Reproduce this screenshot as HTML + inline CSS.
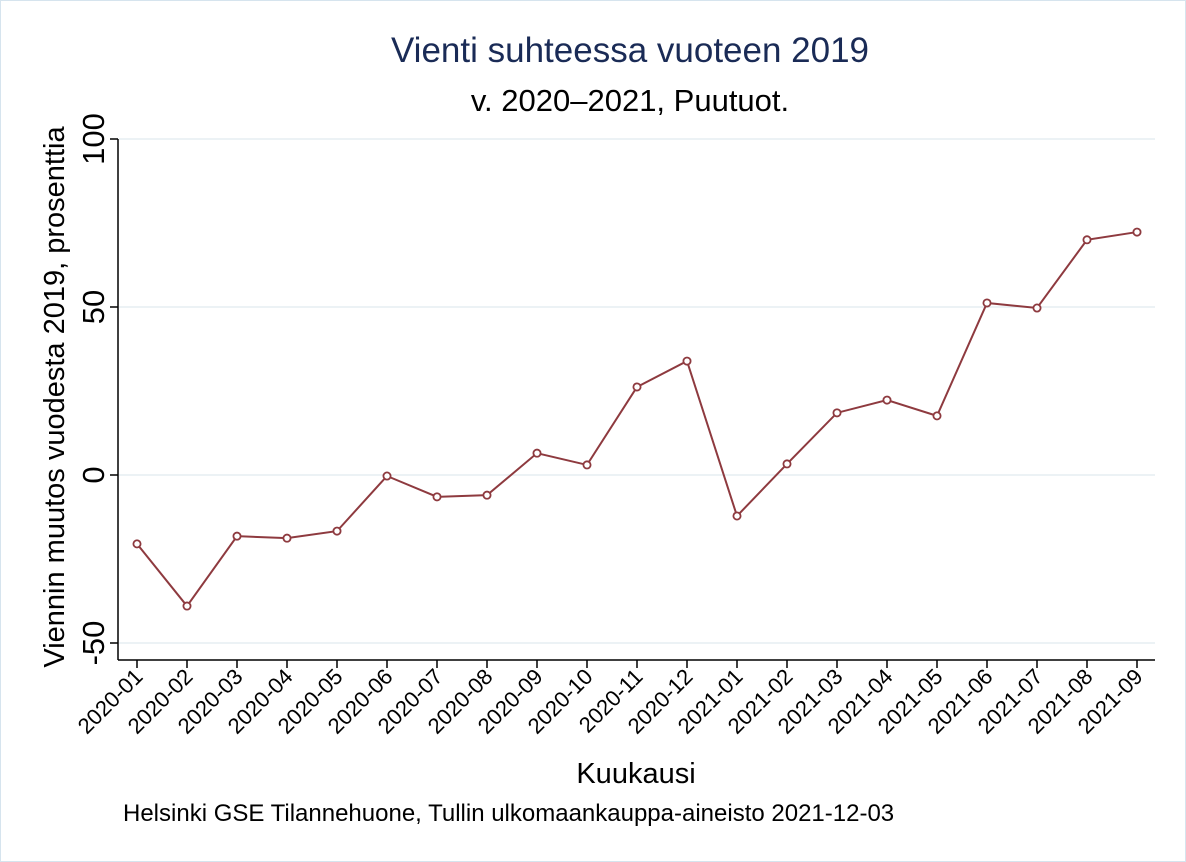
<!DOCTYPE html>
<html><head><meta charset="utf-8"><style>
html,body{margin:0;padding:0;background:#fff}
svg{display:block;font-family:"Liberation Sans",Arial,sans-serif}
</style></head><body>
<svg id="chart" width="1186" height="862" viewBox="0 0 1186 862">
<rect x="0.5" y="0.5" width="1185" height="861" fill="#fff" stroke="#d6e4ee"/>
<text x="630" y="62" text-anchor="middle" font-size="35" fill="#1a2b56">Vienti suhteessa vuoteen 2019</text>
<text x="630" y="111" text-anchor="middle" font-size="31" fill="#000">v. 2020–2021, Puutuot.</text>
<g id="grid"></g>
<g id="yaxis"></g>
<g id="xaxis"></g>
<g id="series"></g>
<text transform="translate(64,397) rotate(-90)" text-anchor="middle" font-size="29">Viennin muutos vuodesta 2019, prosenttia</text>
<text x="636" y="783" text-anchor="middle" font-size="29">Kuukausi</text>
<text x="123" y="821" font-size="24">Helsinki GSE Tilannehuone, Tullin ulkomaankauppa-aineisto 2021-12-03</text>
</svg>
<script>
const categories=["2020-01","2020-02","2020-03","2020-04","2020-05","2020-06","2020-07","2020-08","2020-09","2020-10","2020-11","2020-12","2021-01","2021-02","2021-03","2021-04","2021-05","2021-06","2021-07","2021-08","2021-09"];
const values=[-20.5,-39,-18.2,-18.8,-16.7,-0.3,-6.5,-6,6.5,3,26.2,33.9,-12.2,3.3,18.5,22.3,17.6,51.2,49.7,70,72.3];
const yTicks=[-50,0,50,100];
const NS="http://www.w3.org/2000/svg";
function xs(i){return 137+i*(1000/(categories.length-1));}
function ys(v){return 475-v*3.36;}
function mk(tag,attrs,parent,txt){const e=document.createElementNS(NS,tag);for(const k in attrs)e.setAttribute(k,attrs[k]);if(txt!==undefined)e.textContent=txt;parent.appendChild(e);return e;}
const grid=document.getElementById('grid'),ya=document.getElementById('yaxis'),xa=document.getElementById('xaxis'),se=document.getElementById('series');
mk('line',{x1:118,y1:660,x2:118,y2:ys(100),stroke:'#000','stroke-width':1.5},ya);
mk('line',{x1:118,y1:660,x2:1155,y2:660,stroke:'#000','stroke-width':1.5},xa);
yTicks.forEach(t=>{
 const g=mk('line',{x1:119,y1:ys(t),x2:1155,y2:ys(t),stroke:'#e6eef2','stroke-width':1.5},grid);
 
 
 mk('line',{x1:110,y1:ys(t),x2:118,y2:ys(t),stroke:'#000','stroke-width':1.5},ya);
 const l=mk('text',{transform:`translate(104,${ys(t)}) rotate(-90)`,'text-anchor':'middle','font-size':31},ya,String(t));
 
 
});
categories.forEach((c,i)=>{
 const x=xs(i);
 mk('line',{x1:x,y1:660,x2:x,y2:668,stroke:'#000','stroke-width':1.5},xa);
 const l=mk('text',{transform:`translate(${x+7},${678}) rotate(-45)`,'text-anchor':'end','font-size':22},xa,c);
 
 
});
const pts=values.map((v,i)=>xs(i)+','+ys(v)).join(' ');
const pl=mk('polyline',{points:pts,fill:'none',stroke:'#8e3a3f','stroke-width':2},se);


values.forEach((v,i)=>{
 const p=mk('circle',{cx:xs(i),cy:ys(v),r:3.6,fill:'#fff',stroke:'#8e3a3f','stroke-width':1.8},se);
 
 
});
</script>
</body></html>
